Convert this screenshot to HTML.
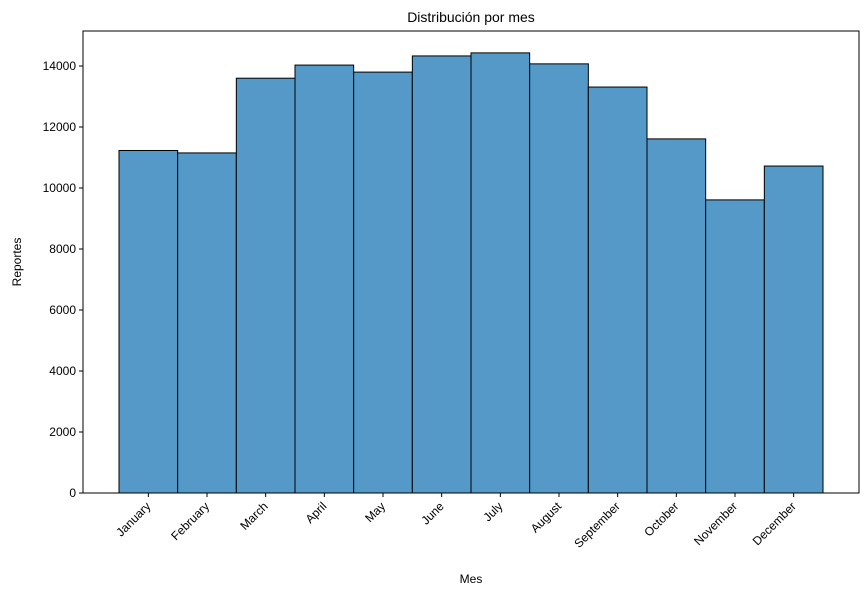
<!DOCTYPE html>
<html><head><meta charset="utf-8"><style>body{margin:0;background:#fff}svg{display:block;font-family:"Liberation Sans","DejaVu Sans",sans-serif}</style></head>
<body>
<svg id="chart" width="868" height="596"></svg>
<script>
const categories=["January","February","March","April","May","June","July","August","September","October","November","December"];
const values=[11230,11150,13600,14030,13800,14330,14430,14070,13310,11610,9610,10720];
const yTicks=[0,2000,4000,6000,8000,10000,12000,14000];
const svg=document.getElementById('chart');const NS='http://www.w3.org/2000/svg';
const L=83,R=859,T=31,B=493;
const y=v=>B-v*(427/14000);
const bx0=119,bw=(823-119)/12;
const x=i=>bx0+i*bw;
function mk(t,a,p){const e=document.createElementNS(NS,t);for(const k in a)e.setAttribute(k,a[k]);(p||svg).appendChild(e);return e;}
categories.forEach((c,i)=>{
 const r=mk('rect',{x:x(i),y:y(values[i]),width:bw,height:B-y(values[i]),fill:'#5499c7',stroke:'#000','stroke-width':1});
 
 
 const cx=x(i)+bw/2;
 mk('line',{x1:cx,x2:cx,y1:B,y2:B+4,stroke:'#000'});
 const t=mk('text',{x:cx+3,y:B+14,'font-size':12,'text-anchor':'end',transform:`rotate(-45 ${cx+3} ${B+14})`});
 t.textContent=c;
 
 
});
yTicks.forEach(v=>{
 mk('line',{x1:L-4,x2:L,y1:y(v),y2:y(v),stroke:'#000'});
 const t=mk('text',{x:L-7,y:y(v)+4,'font-size':12,'text-anchor':'end'});t.textContent=v;
 
 
});
const f=mk('rect',{x:L,y:T,width:R-L,height:B-T,fill:'none',stroke:'#000','stroke-width':1});

const ti=mk('text',{x:(L+R)/2,y:22,'font-size':14,'text-anchor':'middle'});ti.textContent='Distribución por mes';

const xt=mk('text',{x:(L+R)/2,y:583,'font-size':12,'text-anchor':'middle'});xt.textContent='Mes';

const yt=mk('text',{x:21,y:(T+B)/2,'font-size':12,'text-anchor':'middle',transform:`rotate(-90 21 ${(T+B)/2})`});yt.textContent='Reportes';

</script>
</body></html>
